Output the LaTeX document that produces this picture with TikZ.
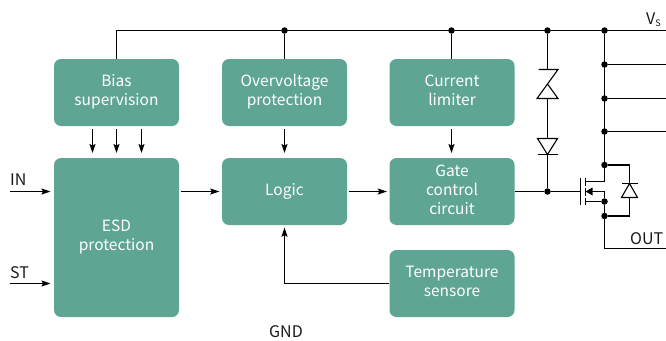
\documentclass[tikz,border=0pt]{standalone}
\usepackage{fontspec}
\setmainfont{Noto Sans CJK SC}
\usetikzlibrary{arrows.meta,calc}
\definecolor{boxgreen}{HTML}{5FA594}
\definecolor{txt}{HTML}{1A1A1A}
\tikzset{
  block/.style={fill=boxgreen,draw=none,rounded corners=7pt,text=white,align=center,font=\fontsize{15.5}{18.8}\selectfont,inner sep=0pt},
  lbl/.style={text=txt,font=\fontsize{16}{18}\selectfont,inner sep=0pt},
  wire/.style={draw=black,line width=1.1pt},
  sym/.style={draw=black,line width=1.1pt,line join=miter},
  flow/.style={draw=black,line width=1.1pt,-{Stealth[length=9pt,width=6pt,inset=1.5pt]}},
  dot/.style={circle,fill=black,draw=none,minimum size=6.5pt,inner sep=0pt}
}
\newcommand{\blockat}[6]{\node[block,minimum width=#4pt,minimum height=#5pt] (#1) at (#2,#3) {#6};}
\begin{document}
\begin{tikzpicture}[x=1pt,y=-1pt]
\useasboundingbox (0,0) rectangle (666,340);
% blocks
\blockat{bias}{116.5}{92.5}{125}{67}{\strut Bias\\\strut supervision}
\blockat{over}{284.5}{92.5}{125}{67}{\strut Overvoltage\\\strut protection}
\blockat{limit}{452}{92.5}{125}{67}{\strut Current\\\strut limiter}
\blockat{esd}{116.5}{237.5}{125}{159}{\strut ESD\\\strut protection}
\blockat{logic}{284.5}{191.5}{125}{67}{\strut Logic}
\blockat{gate}{452}{191.5}{125}{67}{\strut Gate\\\strut control\\\strut circuit}
\blockat{temp}{452}{283.5}{125}{67}{\strut Temperature\\\strut sensore}
% coordinates
\coordinate (biastop) at (116.5,30.5);
\coordinate (vsend) at (666,30.5);
\node[dot] (d1) at (284.5,30.5) {};
\node[dot] (d2) at (451.5,30.5) {};
\node[dot] (d3) at (547.5,30.5) {};
\node[dot] (d4) at (604.5,30.5) {};
\node[dot] (d5) at (604.5,64.5) {};
\node[dot] (d6) at (604.5,98.5) {};
\node[dot] (d7) at (604.5,131.5) {};
\node[dot] (d8) at (604.5,165) {};
\node[dot] (d9) at (604.5,201.5) {};
\node[dot] (d10) at (604.5,216) {};
\node[dot] (d11) at (547.5,191.5) {};
\coordinate (r1) at (666,64.5);
\coordinate (r2) at (666,98.5);
\coordinate (r3) at (666,131.5);
\coordinate (outc) at (604.5,248.5);
\coordinate (oute) at (666,248.5);
% supply
\draw[wire] (bias.north) -- (biastop) -- (vsend);
\draw[wire] (d1) -- (over.north);
\draw[wire] (d2) -- (451.5,59);
\draw[wire] (d4) -- (d8);
\draw[wire] (d5) -- (r1);
\draw[wire] (d6) -- (r2);
\draw[wire] (d7) -- (r3);
% zener + diode column
\coordinate (zt) at (547.5,69.5);
\coordinate (zb) at (547.5,98.5);
\coordinate (db) at (547.5,138.5);
\coordinate (da) at (547.5,154.5);
\draw[wire] (d3) -- (zt);
\draw[sym] (538.5,69.5) -- (558,69.5) -- (537,98.5) -- (558,98.5) -- (547.5,84);
\draw[wire] (zb) -- (db);
\draw[sym] (537.5,138.5) -- (557.5,138.5) -- (547.5,154.5) -- cycle;
\draw[sym] (537.5,154.5) -- (557.5,154.5);
\draw[wire] (da) -- (d11);
\draw[wire] (gate.east) -- (d11);
% mosfet
\coordinate (gb) at (580,191.5);
\draw[wire] (d11) -- (gb);
\draw[line width=1.3pt] (580.5,178) -- (580.5,205);
\draw[line width=1.3pt] (585.5,178) -- (585.5,186);
\draw[line width=1.3pt] (585.5,188) -- (585.5,196);
\draw[line width=1.3pt] (585.5,198) -- (585.5,205);
\draw[wire] (585.5,181.5) -- (604.5,181.5) -- (d8);
\draw[wire] (d9) -- (585.5,201.5);
\draw[wire] (604.5,191.5) -- (590,191.5);
\fill (585.5,191.5) -- (592.5,187.5) -- (592.5,195.5) -- cycle;
\draw[wire] (604.5,191) -- (d9) -- (d10) -- (outc) -- (oute);
\draw[wire] (d8) -- (629.5,165) -- (629.5,216) -- (d10);
\draw[sym,fill=white] (621.5,197.5) -- (637.5,197.5) -- (629.5,183.5) -- cycle;
\draw[sym] (621.5,183.5) -- (637.5,183.5);
% flows
\draw[flow] (92.5,129) -- (92.5,153);
\draw[flow] (116.5,129) -- (116.5,153);
\draw[flow] (141.5,129) -- (141.5,153);
\draw[flow] (284.5,129) -- (284.5,153);
\draw[flow] (451.5,129) -- (451.5,153);
\draw[flow] (esd.east |- logic.west) ++(2,0) -- ($(logic.west)+(-2.5,0)$);
\draw[flow] (logic.east) ++(2,0) -- ($(gate.west)+(-2.5,0)$);
\draw[flow] (temp.west) -- (284.5,283.5) -- ($(logic.south)+(0,2.5)$);
\coordinate (inl) at (10,191.5);
\coordinate (stl) at (10,283.5);
\draw[flow] (inl) -- (50.5,191.5);
\draw[flow] (stl) -- (50.5,283.5);
% labels
\node[lbl,anchor=base west] (in) at (10,185) {IN};
\node[lbl,anchor=base west] (st) at (10,278) {ST};
\node[lbl,anchor=base] (gnd) at (286,337) {GND};
\node[lbl,anchor=base west] (out) at (630,244) {OUT};
\node[lbl,anchor=base west] (vs) at (646,24) {V\raisebox{-2.5pt}{\fontsize{9}{9}\selectfont S}};
\end{tikzpicture}
\end{document}
